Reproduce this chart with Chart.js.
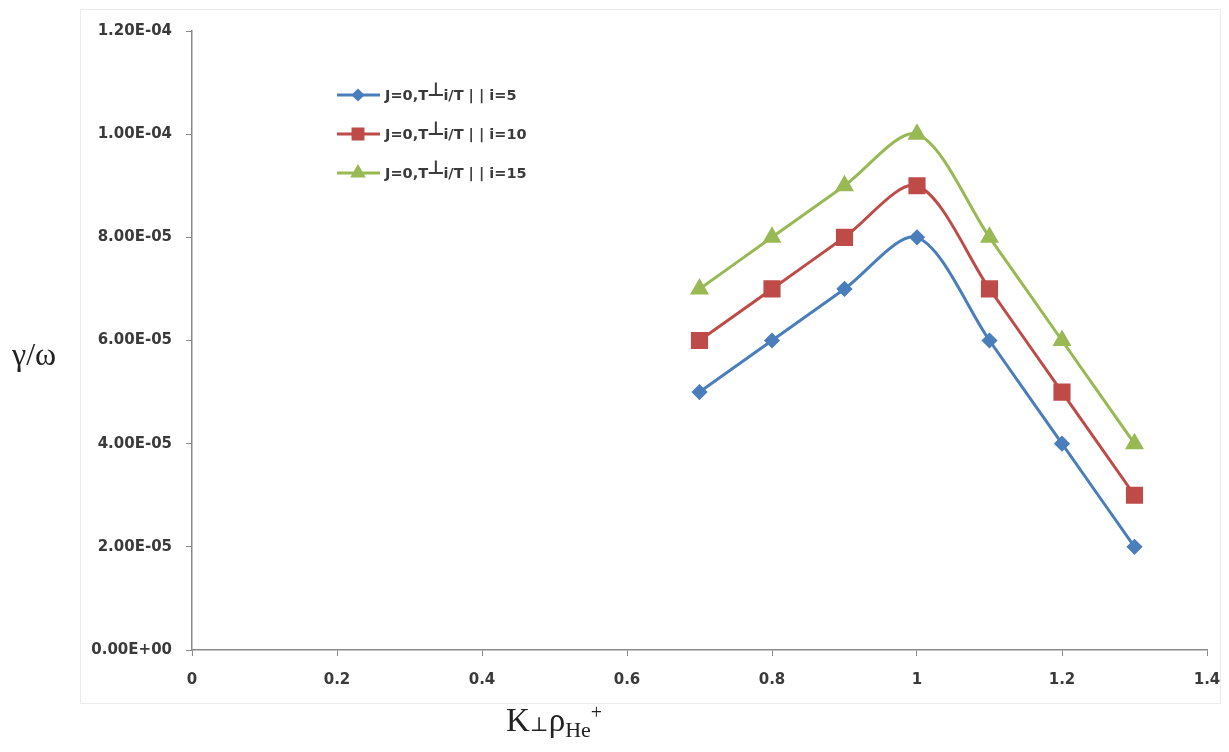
<!DOCTYPE html>
<html lang="en">
  <head>
    <meta charset="UTF-8" />
    <title>Growth rate vs K⊥ρHe+</title>
    <script src="https://cdn.jsdelivr.net/npm/chart.js"></script>
    <style>
      body { margin: 0; background: #fff; }
      #wrap { position: relative; width: 1229px; height: 752px; }
      .ttl { position: absolute; font-family: "Liberation Serif", "DejaVu Serif", serif; color: #222; line-height: 1; }
      #ytitle { left: 12px; top: 338px; font-size: 32px; }
      #xtitle { left: 506px; top: 702px; font-size: 33px; }
      #xtitle .perp { font-size: 20px; }
      #xtitle sub { font-size: 22px; vertical-align: -6px; }
      #xtitle sup { font-size: 20px; vertical-align: 12px; }
    </style>
  </head>
  <body>
    <div id="wrap">
      <canvas id="myChart" width="1229" height="752"></canvas>
      <div class="ttl" id="ytitle">γ/ω</div>
      <div class="ttl" id="xtitle">K<span class="perp">⊥</span>ρ<sub>He</sub><sup>+</sup></div>
    </div>
    <script>
      // data
      var kValues = [0.7, 0.8, 0.9, 1.0, 1.1, 1.2, 1.3]
      var ratio5 = [5e-5, 6e-5, 7e-5, 8e-5, 6e-5, 4e-5, 2e-5]
      var ratio10 = [6e-5, 7e-5, 8e-5, 9e-5, 7e-5, 5e-5, 3e-5]
      var ratio15 = [7e-5, 8e-5, 9e-5, 10e-5, 8e-5, 6e-5, 4e-5]
      var seriesLabels = ["J=0,T⊥i/T||i=5", "J=0,T⊥i/T||i=10", "J=0,T⊥i/T||i=15"]

      function pts(ys) {
        return kValues.map(function (x, i) { return { x: x, y: ys[i] } })
      }

      function sci(v) {
        var parts = v.toExponential(2).split("e")
        var e = parseInt(parts[1], 10)
        var s = e < 0 ? "-" : "+"
        e = Math.abs(e)
        return parts[0] + "E" + s + (e < 10 ? "0" + e : e)
      }

      // faint outer frame + legend drawn inside the plot
      var frameLegend = {
        id: "frameLegend",
        beforeDraw: function (chart) {
          var c = chart.ctx
          c.save()
          c.strokeStyle = "#ececec"
          c.lineWidth = 1
          c.strokeRect(80.5, 9.5, 1140, 694)
          c.restore()
        },
        afterDraw: function (chart) {
          var c = chart.ctx
          c.save()
          chart.data.datasets.forEach(function (ds, i) {
            var y = 95 + i * 39
            c.strokeStyle = ds.borderColor
            c.lineWidth = 3
            c.beginPath()
            c.moveTo(337, y)
            c.lineTo(380, y)
            c.stroke()
            Chart.helpers.drawPoint(c, {
              pointStyle: ds.pointStyle,
              radius: ds.legendRadius,
              borderWidth: 1
            }, 358, y)
            c.fillStyle = ds.borderColor
            c.fill()
            // label pieces: the ⊥ sits a bit higher and larger
            var bits = ds.label.split("⊥")
            var tail = bits[1].replace("||", " | | ")
            var x = 385
            c.fillStyle = "#3a3a3a"
            c.textBaseline = "alphabetic"
            c.font = "bold 14.5px 'DejaVu Sans'"
            c.fillText(bits[0], x, y + 5)
            x += c.measureText(bits[0]).width
            c.font = "bold 19px 'DejaVu Sans'"
            c.fillText("⊥", x - 1, y + 1)
            x += c.measureText("⊥").width - 2
            c.font = "bold 14.5px 'DejaVu Sans'"
            c.fillText(tail, x, y + 5)
          })
          c.restore()
        }
      }

      function makeSet(label, ys, color, style, r, lr) {
        return {
          label: label,
          data: pts(ys),
          borderColor: color,
          backgroundColor: color,
          pointBackgroundColor: color,
          pointBorderColor: color,
          pointStyle: style,
          pointRadius: r,
          legendRadius: lr,
          borderWidth: 3,
          tension: 0.3
        }
      }

      var tickFont = { family: "DejaVu Sans", size: 15, weight: "bold" }

      new Chart(document.getElementById("myChart").getContext("2d"), {
        type: "line",
        data: {
          datasets: [
            makeSet(seriesLabels[0], ratio5, "#4a7ebb", "rectRot", 6, 4.5),
            makeSet(seriesLabels[1], ratio10, "#be4b48", "rect", 10, 7),
            makeSet(seriesLabels[2], ratio15, "#98b954", "triangle", 8, 6)
          ]
        },
        options: {
          responsive: false,
          animation: false,
          layout: { padding: { left: 80, top: 31, right: 22, bottom: 0 } },
          plugins: { legend: { display: false }, tooltip: { enabled: false } },
          scales: {
            x: {
              type: "linear",
              min: 0,
              max: 1.4,
              ticks: {
                stepSize: 0.2,
                color: "#3a3a3a",
                font: tickFont,
                padding: 15,
                callback: function (v) { return parseFloat(v.toFixed(1)).toString() }
              },
              grid: { drawOnChartArea: false, drawTicks: true, tickLength: 6, color: "#8a8a8a" },
              border: { color: "#8a8a8a", width: 1.5 },
              afterFit: function (s) {
                s.height = 102
                s.paddingLeft = 0
                s.paddingRight = 0
              }
            },
            y: {
              min: 0,
              max: 1.2e-4,
              ticks: {
                stepSize: 2e-5,
                color: "#3a3a3a",
                font: tickFont,
                padding: 14,
                callback: function (v) { return sci(v) }
              },
              grid: { drawOnChartArea: false, drawTicks: true, tickLength: 6, color: "#8a8a8a" },
              border: { color: "#8a8a8a", width: 1.5 },
              afterFit: function (s) {
                s.width = 112
                s.paddingTop = 0
                s.paddingBottom = 0
              }
            }
          }
        },
        plugins: [frameLegend]
      })
    </script>
  </body>
</html>
